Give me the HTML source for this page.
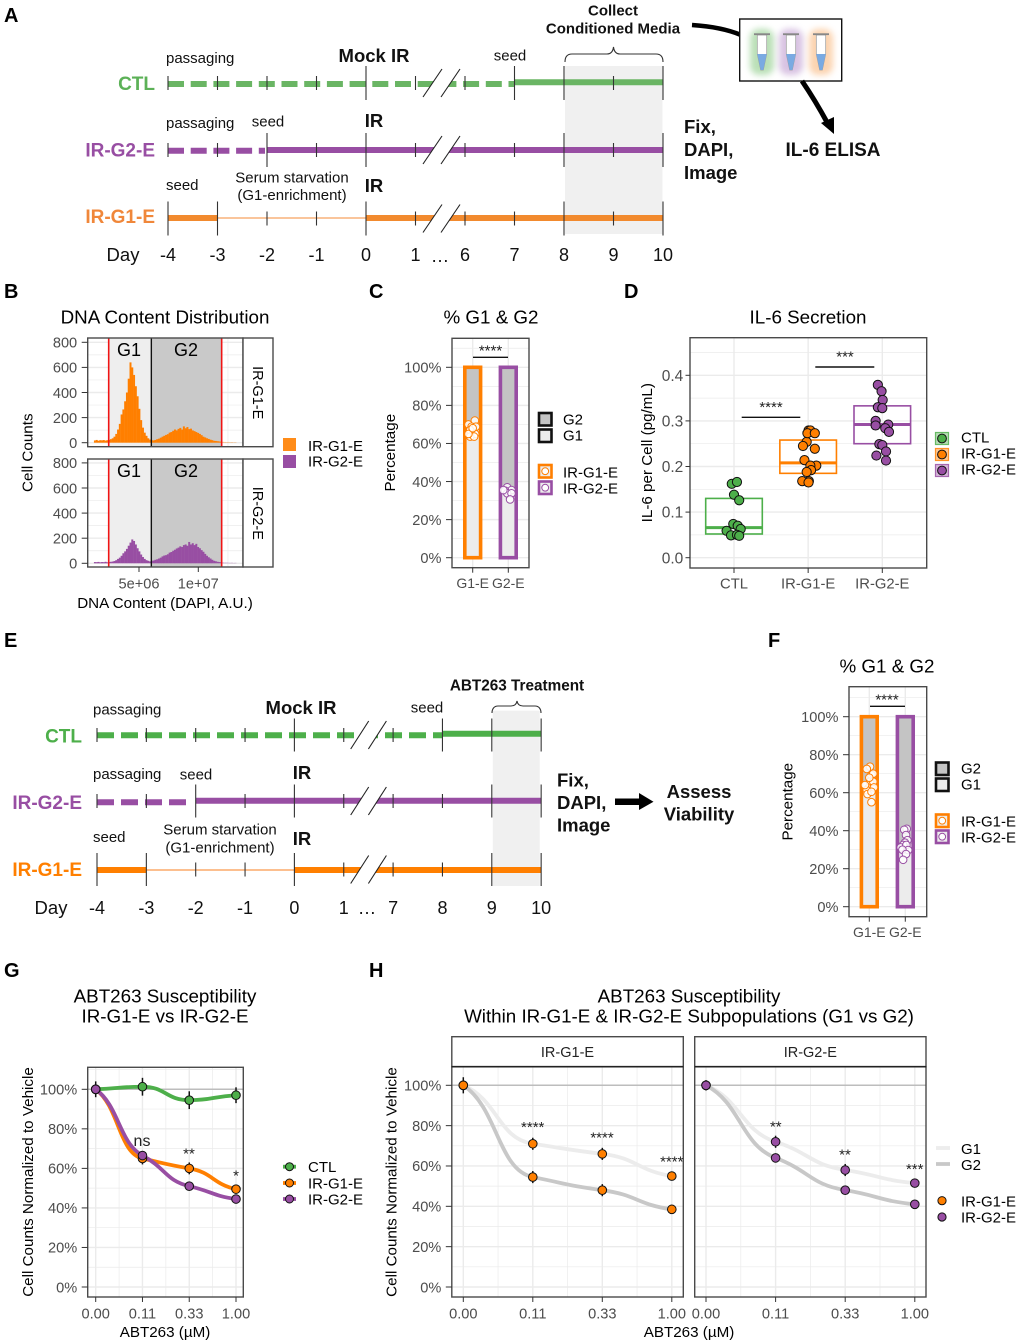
<!DOCTYPE html>
<html lang="en">
<head>
<meta charset="utf-8">
<title>Multi-panel figure: IR-G1-E and IR-G2-E senescence experiments</title>
<style>
  html, body { margin: 0; padding: 0; background: #fff; }
  svg { display: block; filter: blur(.3px); }
  text { font-family: "Liberation Sans", Arial, sans-serif; fill: #000; }
  .letter { font-weight: bold; font-size: 20px; }
  .tl { font-size: 15px; fill: #111; }
  .tlb { font-size: 18.5px; font-weight: bold; fill: #111; }
  .tlm { font-size: 15px; font-weight: bold; fill: #111; }
  .row { font-size: 19px; font-weight: bold; text-anchor: end; }
  .title { font-size: 18.8px; text-anchor: middle; }
  .axt { font-size: 15.2px; text-anchor: middle; }
  .leg { font-size: 15px; }
  .sig { font-size: 15px; text-anchor: middle; fill: #222; }
  .gate { font-size: 18px; text-anchor: middle; }
  .m { text-anchor: middle; }
</style>
</head>
<body>
<svg id="figure" xmlns="http://www.w3.org/2000/svg" width="1020" height="1344" viewBox="0 0 1020 1344">
  <defs>
    <filter id="glow" x="-50%" y="-50%" width="200%" height="200%"><feGaussianBlur stdDeviation="3.2"/></filter>
  </defs>
  <rect width="1020" height="1344" fill="#fff"/>

  <!-- panel letters -->
  <text class="letter" x="4" y="22">A</text>
  <text class="letter" x="4" y="298">B</text>
  <text class="letter" x="369" y="298">C</text>
  <text class="letter" x="624" y="298">D</text>
  <text class="letter" x="4" y="647">E</text>
  <text class="letter" x="768" y="647">F</text>
  <text class="letter" x="4" y="977">G</text>
  <text class="letter" x="369" y="977">H</text>

  <!-- PANEL A -->
  <g id="timeline-a"></g>
  <g>
    <text class="tlm m" x="613" y="15.7">Collect</text>
    <text class="tlm m" x="613" y="33.7">Conditioned Media</text>
    <path d="M565,62 C565,56 568,54 572,54 L607,54 C611,54 613,51 613.5,47 C614,51 616,54 620,54 L656,54 C660,54 663,56 663,62" fill="none" stroke="#333" stroke-width="1.1"/>
    <text class="tl" x="166" y="63">passaging</text>
    <text class="tlb m" x="374" y="62">Mock IR</text>
    <text class="tl m" x="510" y="60.7">seed</text>
    <text class="row" x="155" y="90" style="fill:#5cb157">CTL</text>
    <text class="tl" x="166" y="128">passaging</text>
    <text class="tl m" x="268" y="126.7">seed</text>
    <text class="tlb m" x="374" y="127">IR</text>
    <text class="row" x="155" y="156.7" style="fill:#984ea3">IR-G2-E</text>
    <text class="tl" x="166" y="190">seed</text>
    <text class="tl m" x="292" y="182.7">Serum starvation</text>
    <text class="tl m" x="292" y="200">(G1-enrichment)</text>
    <text class="tlb m" x="374" y="192">IR</text>
    <text class="row" x="155" y="223" style="fill:#f0873a">IR-G1-E</text>
    <text class="tlb m" x="123" y="261" style="font-weight:normal">Day</text>
    <text class="tlb m" x="440" y="262" style="font-weight:normal">…</text>
    <text class="tlb" x="684" y="133">Fix,</text>
    <text class="tlb" x="684" y="156">DAPI,</text>
    <text class="tlb" x="684" y="179">Image</text>
    <text class="tlb m" x="833" y="156" style="font-size:19px">IL-6 ELISA</text>
  </g>
  <g>
    <path d="M692,25 Q722,27 741,35" fill="none" stroke="#000" stroke-width="4.5"/>
    <rect x="739.7" y="19" width="102" height="62" fill="#fff" stroke="#111" stroke-width="1.4"/>
    <rect x="750" y="29" width="24" height="46" rx="9" fill="#a9d8a5" opacity=".8" filter="url(#glow)"/>
    <rect x="779" y="29" width="24" height="46" rx="9" fill="#cfb4dc" opacity=".8" filter="url(#glow)"/>
    <rect x="809" y="29" width="24" height="46" rx="9" fill="#fbc99d" opacity=".8" filter="url(#glow)"/>
    <g transform="translate(762,0)">
      <path d="M-4.7,35 L4.7,35 L4.7,54 L1.3,70 L-1.3,70 L-4.7,54 Z" fill="#fff" stroke="#999" stroke-width=".7"/>
      <path d="M-4.7,54 L4.7,54 L1.3,70 L-1.3,70 Z" fill="#7aaae2"/>
      <rect x="-8" y="33.3" width="16" height="1.8" fill="#888"/>
    </g>
    <g transform="translate(791,0)">
      <path d="M-4.7,35 L4.7,35 L4.7,54 L1.3,70 L-1.3,70 L-4.7,54 Z" fill="#fff" stroke="#999" stroke-width=".7"/>
      <path d="M-4.7,54 L4.7,54 L1.3,70 L-1.3,70 Z" fill="#7aaae2"/>
      <rect x="-8" y="33.3" width="16" height="1.8" fill="#888"/>
    </g>
    <g transform="translate(821,0)">
      <path d="M-4.7,35 L4.7,35 L4.7,54 L1.3,70 L-1.3,70 L-4.7,54 Z" fill="#fff" stroke="#999" stroke-width=".7"/>
      <path d="M-4.7,54 L4.7,54 L1.3,70 L-1.3,70 Z" fill="#7aaae2"/>
      <rect x="-8" y="33.3" width="16" height="1.8" fill="#888"/>
    </g>
    <path d="M802,81 Q815,100 828,124" fill="none" stroke="#000" stroke-width="5"/>
    <polygon points="821,123 834,117 834,134" fill="#000"/>
  </g>

  <!-- PANEL B -->
  <g id="panel-b"></g>
  <g>
    <text class="title" x="165" y="323.3">DNA Content Distribution</text>
    <text class="gate" x="129" y="356">G1</text>
    <text class="gate" x="186" y="356">G2</text>
    <text class="gate" x="129" y="477">G1</text>
    <text class="gate" x="186" y="477">G2</text>
    <text class="axt" x="165" y="608">DNA Content (DAPI, A.U.)</text>
    <text class="axt" x="32.5" y="452.7" transform="rotate(-90 32.5 452.7)">Cell Counts</text>
    <text class="leg m" x="253" y="392.7" transform="rotate(90 253 392.7)" style="font-size:14.5px">IR-G1-E</text>
    <text class="leg m" x="253" y="513.3" transform="rotate(90 253 513.3)" style="font-size:14.5px">IR-G2-E</text>
    <rect x="283" y="438" width="13" height="13" fill="#ff7f00" opacity=".9"/>
    <rect x="283" y="455" width="13" height="13" fill="#984ea3"/>
    <text class="leg" x="308" y="451">IR-G1-E</text>
    <text class="leg" x="308" y="466.4">IR-G2-E</text>
  </g>

  <!-- PANEL C -->
  <g id="panel-c"></g>
  <g>
    <text class="title" x="491" y="323.3">% G1 &amp; G2</text>
    <text class="axt" x="395" y="452.7" transform="rotate(-90 395 452.7)">Percentage</text>
    <line x1="473" x2="508" y1="357.3" y2="357.3" stroke="#111" stroke-width="1.4"/>
    <text class="sig" x="490.5" y="355.5">****</text>
    <rect x="539" y="413" width="12.5" height="12.5" fill="#c4c4c4" stroke="#111" stroke-width="2.6"/>
    <rect x="539" y="429.5" width="12.5" height="12.5" fill="#ececec" stroke="#111" stroke-width="2.6"/>
    <text class="leg" x="563" y="424.4">G2</text>
    <text class="leg" x="563" y="440.4">G1</text>
    <rect x="539" y="465" width="12.5" height="12.5" fill="#ececec" stroke="#ff7f00" stroke-width="2.6"/>
    <circle cx="545.2" cy="471.2" r="3.4" fill="#fff" stroke="#ff7f00" stroke-width="1"/>
    <rect x="539" y="481.5" width="12.5" height="12.5" fill="#ececec" stroke="#984ea3" stroke-width="2.6"/>
    <circle cx="545.2" cy="487.7" r="3.4" fill="#fff" stroke="#984ea3" stroke-width="1"/>
    <text class="leg" x="563" y="477.4">IR-G1-E</text>
    <text class="leg" x="563" y="493.4">IR-G2-E</text>
  </g>

  <!-- PANEL D -->
  <g id="panel-d"></g>
  <g>
    <text class="title" x="808" y="323.3">IL-6 Secretion</text>
    <text class="axt" x="652" y="452.7" transform="rotate(-90 652 452.7)">IL-6 per Cell (pg/mL)</text>
    <line x1="741.7" x2="800.3" y1="417.3" y2="417.3" stroke="#111" stroke-width="1.4"/>
    <text class="sig" x="771" y="412">****</text>
    <line x1="815.3" x2="874.3" y1="367" y2="367" stroke="#111" stroke-width="1.4"/>
    <text class="sig" x="845" y="361.3">***</text>
    <rect x="935.5" y="432.5" width="13" height="12" fill="#a9d9a6" stroke="#4daf4a" stroke-width="1.2" opacity=".85"/>
    <circle cx="942" cy="438.5" r="4.4" fill="#4daf4a" stroke="#111"/>
    <rect x="935.5" y="448.5" width="13" height="12" fill="#ffbe7d" stroke="#ff7f00" stroke-width="1.2" opacity=".85"/>
    <circle cx="942" cy="454.5" r="4.4" fill="#ff7f00" stroke="#111"/>
    <rect x="935.5" y="464.5" width="13" height="12" fill="#cda8d3" stroke="#984ea3" stroke-width="1.2" opacity=".85"/>
    <circle cx="942" cy="470.5" r="4.4" fill="#984ea3" stroke="#111"/>
    <text class="leg" x="961" y="442.4">CTL</text>
    <text class="leg" x="961" y="458.4">IR-G1-E</text>
    <text class="leg" x="961" y="474.4">IR-G2-E</text>
  </g>

  <!-- PANEL E -->
  <g id="timeline-e"></g>
  <g>
    <text class="tlm m" x="517" y="690.7" style="font-size:15.3px">ABT263 Treatment</text>
    <path d="M492,713 C492,709 494,706 498,706 L511,706 C515,706 516.5,704 517,701 C517.5,704 519,706 523,706 L535,706 C539,706 541,709 541,713" fill="none" stroke="#333" stroke-width="1.1"/>
    <text class="tl" x="93" y="714.3">passaging</text>
    <text class="tlb m" x="301" y="714">Mock IR</text>
    <text class="tl m" x="427" y="712.3">seed</text>
    <text class="row" x="82" y="742.7" style="fill:#4daf4a">CTL</text>
    <text class="tl" x="93" y="779">passaging</text>
    <text class="tl m" x="196" y="779.3">seed</text>
    <text class="tlb m" x="302" y="779">IR</text>
    <text class="row" x="82" y="809" style="fill:#984ea3">IR-G2-E</text>
    <text class="tl" x="93" y="842">seed</text>
    <text class="tl m" x="220" y="834.3">Serum starvation</text>
    <text class="tl m" x="220" y="852.7">(G1-enrichment)</text>
    <text class="tlb m" x="302" y="845">IR</text>
    <text class="row" x="82" y="876" style="fill:#ff7f00">IR-G1-E</text>
    <text class="tlb m" x="51" y="914" style="font-weight:normal">Day</text>
    <text class="tlb m" x="367" y="914" style="font-weight:normal">…</text>
    <text class="tlb" x="557" y="786.7">Fix,</text>
    <text class="tlb" x="557" y="809">DAPI,</text>
    <text class="tlb" x="557" y="831.7">Image</text>
    <polygon points="615,798.5 639,798.5 639,793 653.5,801.7 639,810 639,805 615,805" fill="#000"/>
    <text class="tlb m" x="699" y="798">Assess</text>
    <text class="tlb m" x="699" y="820.7">Viability</text>
  </g>

  <!-- PANEL F -->
  <g id="panel-f"></g>
  <g>
    <text class="title" x="887" y="672.7">% G1 &amp; G2</text>
    <text class="axt" x="792.7" y="801.7" transform="rotate(-90 792.7 801.7)">Percentage</text>
    <line x1="870" x2="905" y1="706.3" y2="706.3" stroke="#111" stroke-width="1.4"/>
    <text class="sig" x="887" y="704.6">****</text>
    <rect x="936" y="762.5" width="12.5" height="12.5" fill="#c4c4c4" stroke="#111" stroke-width="2.6"/>
    <rect x="936" y="778.5" width="12.5" height="12.5" fill="#ececec" stroke="#111" stroke-width="2.6"/>
    <text class="leg" x="961" y="773.4">G2</text>
    <text class="leg" x="961" y="789.4">G1</text>
    <rect x="936" y="814.5" width="12.5" height="12.5" fill="#ececec" stroke="#ff7f00" stroke-width="2.6"/>
    <circle cx="942.2" cy="820.7" r="3.4" fill="#fff" stroke="#ff7f00" stroke-width="1"/>
    <rect x="936" y="830.5" width="12.5" height="12.5" fill="#ececec" stroke="#984ea3" stroke-width="2.6"/>
    <circle cx="942.2" cy="836.7" r="3.4" fill="#fff" stroke="#984ea3" stroke-width="1"/>
    <text class="leg" x="961" y="826.4">IR-G1-E</text>
    <text class="leg" x="961" y="842.4">IR-G2-E</text>
  </g>

  <!-- PANEL G -->
  <g id="panel-g"></g>
  <g>
    <text class="title" x="165" y="1002.3">ABT263 Susceptibility</text>
    <text class="title" x="165" y="1022.3">IR-G1-E vs IR-G2-E</text>
    <text class="axt" x="33" y="1182" transform="rotate(-90 33 1182)">Cell Counts Normalized to Vehicle</text>
    <text class="axt" x="165" y="1337">ABT263 (µM)</text>
    <text class="sig" x="142" y="1146" style="font-size:16px">ns</text>
    <text class="sig" x="189" y="1158.6">**</text>
    <text class="sig" x="236" y="1180.3">*</text>
    <line x1="283" x2="296" y1="1166.7" y2="1166.7" stroke="#4daf4a" stroke-width="3.8"/>
    <circle cx="289.5" cy="1166.7" r="4" fill="#4daf4a" stroke="#111"/>
    <line x1="283" x2="296" y1="1183" y2="1183" stroke="#ff7f00" stroke-width="3.8"/>
    <circle cx="289.5" cy="1183" r="4" fill="#ff7f00" stroke="#111"/>
    <line x1="283" x2="296" y1="1199" y2="1199" stroke="#984ea3" stroke-width="3.8"/>
    <circle cx="289.5" cy="1199" r="4" fill="#984ea3" stroke="#111"/>
    <text class="leg" x="308" y="1172">CTL</text>
    <text class="leg" x="308" y="1188.4">IR-G1-E</text>
    <text class="leg" x="308" y="1204.4">IR-G2-E</text>
  </g>

  <!-- PANEL H -->
  <g id="panel-h"></g>
  <g>
    <text class="title" x="689" y="1002.3">ABT263 Susceptibility</text>
    <text class="title" x="689" y="1022.3">Within IR-G1-E &amp; IR-G2-E Subpopulations (G1 vs G2)</text>
    <text class="leg m" x="567.5" y="1057" style="font-size:14.5px;fill:#222">IR-G1-E</text>
    <text class="leg m" x="810.3" y="1057" style="font-size:14.5px;fill:#222">IR-G2-E</text>
    <text class="axt" x="396.3" y="1182" transform="rotate(-90 396.3 1182)">Cell Counts Normalized to Vehicle</text>
    <text class="axt" x="689" y="1337">ABT263 (µM)</text>
    <text class="sig" x="532.7" y="1132">****</text>
    <text class="sig" x="602" y="1142.3">****</text>
    <text class="sig" x="671.8" y="1166.3">****</text>
    <text class="sig" x="775.8" y="1131.3">**</text>
    <text class="sig" x="845" y="1159.6">**</text>
    <text class="sig" x="914.7" y="1174">***</text>
    <line x1="936" x2="950" y1="1148" y2="1148" stroke="#ededed" stroke-width="3.8"/>
    <line x1="936" x2="950" y1="1164" y2="1164" stroke="#c8c8c8" stroke-width="3.8"/>
    <text class="leg" x="961" y="1154">G1</text>
    <text class="leg" x="961" y="1170">G2</text>
    <circle cx="942" cy="1200.7" r="4.1" fill="#ff7f00" stroke="#111"/>
    <circle cx="942" cy="1217" r="4.1" fill="#984ea3" stroke="#111"/>
    <text class="leg" x="961" y="1206.4">IR-G1-E</text>
    <text class="leg" x="961" y="1222.4">IR-G2-E</text>
  </g>
</svg>

<script>
/* ---------- DATA ---------- */
// Panels A and E: timelines
const timelineADays = ['-4','-3','-2','-1','0','1','6','7','8','9','10'];
const timelineEDays = ['-4','-3','-2','-1','0','1','7','8','9','10'];

// Panel B: histogram bin counts
const histBinStart = 1.2e6;
const histBinWidth = 1.5e5;
const histIrG1 = [18,22,16,20,19,21,17,20,22,28,35,48,70,105,150,225,265,330,400,510,640,600,540,450,370,270,180,120,80,55,35,25,20,18,22,28,32,40,48,55,62,68,80,85,95,105,98,110,118,105,130,115,125,108,112,98,92,85,78,70,60,48,42,35,30,24,20,15,14,12,10,8,7,6,5,6,4,5,3,4];
const histIrG2 = [10,9,11,8,10,9,12,8,10,12,14,18,25,35,45,60,80,95,115,140,165,190,178,150,120,95,70,50,35,25,20,15,20,22,28,32,38,45,55,62,65,72,85,90,100,108,118,125,135,130,145,150,140,170,150,160,145,155,130,120,105,92,75,60,48,38,28,20,16,12,10,8,7,6,6,5,4,5,3,4];
const histGates = [2.445e6, 6.04e6, 1.197e7];
const histXTicks = [5e6, 1e7];
const histXLabels = ['5e+06', '1e+07'];
const histXMinor = [7.5e6, 1.25e7];
const histYTicks = [0, 200, 400, 600, 800];
const histYLabels = ['0', '200', '400', '600', '800'];

// Panel C: percent G1 per replicate
const pctTicks = [0, 20, 40, 60, 80, 100];
const pctLabels = ['0%', '20%', '40%', '60%', '80%', '100%'];
const pctGroups = ['G1-E', 'G2-E'];
const cMeans = [67.5, 34.8];
const cG1Values = [72, 70, 68.8, 68.8, 67, 65, 63.6, 63.6, 65, 68];
const cG1Jitter = [.06, -.12, -.03, .09, -.07, .07, -.07, .04, -.12, 0];
const cG2Values = [37, 35.5, 35.2, 33.8, 33.8, 30.6, 35.5];
const cG2Jitter = [-.03, .09, -.09, -.03, .09, .05, -.14];

// Panel D: IL-6 secretion
const il6Groups = ['CTL', 'IR-G1-E', 'IR-G2-E'];
const il6Ticks = [0, .1, .2, .3, .4];
const il6Labels = ['0.0', '0.1', '0.2', '0.3', '0.4'];
const il6Q1 = [.052, .185, .25];
const il6Median = [.066, .208, .292];
const il6Q3 = [.13, .258, .333];
const il6Ctl = [.162, .166, .138, .126, .074, .070, .063, .059, .049, .050, .048];
const il6CtlJitter = [-.03, .04, 0, .07, -.01, .05, .09, -.10, -.04, .04, .07];
const il6G1 = [.279, .279, .254, .273, .273, .245, .239, .214, .202, .202, .192, .188, .168, .168, .165];
const il6G1Jitter = [.005, .03, -.02, -.01, .09, -.07, .09, -.05, .11, .03, .04, -.02, .01, -.08, .005];
const il6G2 = [.379, .365, .346, .330, .328, .300, .290, .292, .284, .276, .249, .247, .233, .224, .213];
const il6G2Jitter = [-.06, -.01, .005, -.06, 0, -.09, -.09, .08, .04, .09, -.04, 0, .05, -.08, .05];

// Panel F: percent G1 per replicate
const fMeans = [65, 33];
const fG1Values = [73.7, 72.5, 69.3, 70, 65.8, 65.8, 62.3, 62.8, 61.4, 59.3, 60.5, 55, 64, 67.9];
const fG1Jitter = [.02, -.07, .06, .11, .02, .11, -.03, .13, -.07, -.05, .06, .06, -.12, 0];
const fG2Values = [41, 40.5, 37.7, 35, 33.7, 32.5, 31.2, 32.5, 29.8, 30, 27.7, 24.7];
const fG2Jitter = [.04, -.03, .02, .06, -.01, -.06, -.13, .03, .08, -.08, .02, -.06];

// Panel G: dose response
const doseLabels = ['0.00', '0.11', '0.33', '1.00'];
const gCtl = [100, 101.3, 94.5, 97];
const gCtlErr = [4, 4.5, 4.5, 4];
const gIrG1 = [100, 65, 60, 49.5];
const gIrG1Err = [1, 3, 3, 1];
const gIrG2 = [100, 66.5, 51, 44.5];
const gIrG2Err = [1, 1.5, 1, 1];

// Panel H: dose response by subpopulation
const hG1PanelG1 = [100, 71, 66, 55];
const hG1PanelG1Err = [4, 3, 3, 2];
const hG1PanelG2 = [100, 54.5, 48, 38.5];
const hG1PanelG2Err = [1, 3, 3, 2];
const hG2PanelG1 = [100, 72, 58, 51.5];
const hG2PanelG1Err = [2.5, 3, 3, 2];
const hG2PanelG2 = [100, 64, 48, 41];
const hG2PanelG2Err = [2.5, 1, 1, 1];

/* ---------- HELPERS ---------- */
const NS = 'http://www.w3.org/2000/svg';
const ORANGE = '#ff7f00', PURPLE = '#984ea3', GREEN = '#4daf4a';
const GRID = '#ebebeb', BORDER = '#4a4a4a', TICKTXT = '#4d4d4d';

function el(parent, tag, attrs, name) {
  const e = document.createElementNS(NS, tag);
  for (const k in attrs) e.setAttribute(k, attrs[k]);
  
  
  parent.appendChild(e);
  return e;
}
function line(p, x1, y1, x2, y2, stroke, w, name) {
  return el(p, 'line', {x1, y1, x2, y2, stroke, 'stroke-width': w}, name);
}
function label(p, x, y, str, anchor, size, name, fill) {
  const t = el(p, 'text', {x, y: y + size * 0.36, 'text-anchor': anchor, style: 'font-size:' + size + 'px;fill:' + (fill || TICKTXT)}, name);
  t.textContent = str;
  return t;
}
function gridY(p, box, ticks, yS) {
  ticks.forEach(v => line(p, box.x0, yS(v), box.x1, yS(v), GRID, 1.4, 'grid-major-y'));
  for (let i = 0; i + 1 < ticks.length; i++) {
    const m = (ticks[i] + ticks[i + 1]) / 2;
    line(p, box.x0, yS(m), box.x1, yS(m), GRID, .7, 'grid-minor-y');
  }
  const step = ticks[1] - ticks[0], top = ticks[ticks.length - 1] + step / 2;
  if (yS(top) > box.y0) line(p, box.x0, yS(top), box.x1, yS(top), GRID, .7, 'grid-minor-y');
}
function gridX(p, box, xs, minor) {
  xs.forEach(x => line(p, x, box.y0, x, box.y1, GRID, 1.4, 'grid-major-x'));
  if (minor) for (let i = 0; i + 1 < xs.length; i++) {
    const m = (xs[i] + xs[i + 1]) / 2;
    line(p, m, box.y0, m, box.y1, GRID, .7, 'grid-minor-x');
  }
}
function frame(p, box, name) {
  return el(p, 'rect', {x: box.x0, y: box.y0, width: box.x1 - box.x0, height: box.y1 - box.y0, fill: 'none', stroke: BORDER, 'stroke-width': 1.4}, name);
}
function axisY(p, box, ticks, labels, yS, opt) {
  const o = opt || {};
  const tickLen = o.tick || 6, off = o.off || 10.5, size = o.size || 14.6;
  ticks.forEach((v, i) => {
    line(p, box.x0 - tickLen, yS(v), box.x0, yS(v), '#333', 1, 'y-tick');
    label(p, box.x0 - off, yS(v), labels[i], 'end', size, 'y-tick-label');
  });
}
function axisX(p, box, xs, labels, y, size) {
  xs.forEach((x, i) => {
    line(p, x, box.y1, x, box.y1 + 5, '#333', 1, 'x-tick');
    label(p, x, y, labels[i], 'middle', size || 14.6, 'x-tick-label');
  });
}
function whiteBg(p, box, name) {
  return el(p, 'rect', {x: box.x0, y: box.y0, width: box.x1 - box.x0, height: box.y1 - box.y0, fill: '#fff'}, name);
}

/* ---------- TIMELINES ---------- */
function timeline(id, days, cfg) {
  const g = document.getElementById(id);
  const X = i => cfg.x0 + cfg.step * i;
  el(g, 'rect', {x: cfg.band[0], y: cfg.band[1], width: cfg.band[2] - cfg.band[0], height: cfg.band[3] - cfg.band[1], fill: '#f0f0f0'}, 'highlight-band');
  cfg.rows.forEach(r => {
    r.segs.forEach(s => {
      const a = {x1: X(s.from) + (s.ox1 || 0), x2: X(s.to) + (s.ox2 || 0), y1: s.y, y2: s.y, stroke: r.color, 'stroke-width': s.w || cfg.lw};
      if (s.dash) a['stroke-dasharray'] = s.dash;
      if (s.thin) { a['stroke-width'] = 1.6; a.stroke = r.thin; }
      el(g, 'line', a, r.name + '-segment');
    });
    days.forEach((d, i) => {
      const big = r.big.indexOf(i) >= 0;
      line(g, X(i), big ? r.y - cfg.bigUp : r.y - cfg.smallUp, X(i), big ? r.y + cfg.bigDown : r.y + cfg.smallDown, '#333', 1.1, r.name + '-tick');
    });
    const k = cfg.slash;
    const top = r.y - k.h, bot = r.y + k.h;
    el(g, 'polygon', {points: [k.x1 + k.dx, top, k.x2 + k.dx, top, k.x2, bot, k.x1, bot].join(' '), fill: '#fff'}, r.name + '-break-gap');
    line(g, k.x1, bot, k.x1 + k.dx, top, '#222', 1.1, r.name + '-break-slash');
    line(g, k.x2, bot, k.x2 + k.dx, top, '#222', 1.1, r.name + '-break-slash');
  });
  days.forEach((d, i) => {
    const t = el(g, 'text', {x: X(i), y: cfg.labelY, 'text-anchor': 'middle', style: 'font-size:18px;fill:#111'}, 'day-label');
    t.textContent = d;
  });
}

timeline('timeline-a', timelineADays, {
  x0: 168, step: 49.5, lw: 6, band: [565, 66, 662.5, 234], labelY: 261,
  bigUp: 17, bigDown: 17, smallUp: 7, smallDown: 7,
  slash: {x1: 423, x2: 441, dx: 19, h: 14},
  rows: [
    {name: 'ctl', y: 83, color: '#6ab564', thin: '#6ab564', big: [4, 7, 8, 10],
     segs: [{from: 0, to: 7, y: 84, dash: '16 6.7'}, {from: 7, to: 10, y: 82.3}]},
    {name: 'ir-g2-e', y: 150, color: PURPLE, thin: PURPLE, big: [2, 4, 8, 10],
     segs: [{from: 0, to: 2, y: 150.7, dash: '16 6.7', ox2: -2}, {from: 2, to: 10, y: 150}]},
    {name: 'ir-g1-e', y: 218.5, color: '#f28a2e', thin: '#f9b27a', big: [0, 1, 4, 8, 10],
     segs: [{from: 0, to: 1, y: 218}, {from: 1, to: 4, y: 218, thin: true}, {from: 4, to: 10, y: 218}]}
  ]
});

timeline('timeline-e', timelineEDays, {
  x0: 97, step: 49.35, lw: 6, band: [492.8, 710.7, 539.7, 886], labelY: 914,
  bigUp: 16.5, bigDown: 16.5, smallUp: 7, smallDown: 7,
  slash: {x1: 350.7, x2: 368.4, dx: 18, h: 14},
  rows: [
    {name: 'ctl', y: 735, color: GREEN, thin: GREEN, big: [4, 7, 8, 9],
     segs: [{from: 0, to: 7, y: 735.3, dash: '17 7'}, {from: 7, to: 9, y: 733.7}]},
    {name: 'ir-g2-e', y: 801, color: PURPLE, thin: PURPLE, big: [2, 4, 8, 9],
     segs: [{from: 0, to: 2, y: 802.3, dash: '17 7', ox2: -3}, {from: 2, to: 9, y: 800.7}]},
    {name: 'ir-g1-e', y: 869.5, color: ORANGE, thin: '#fbaa6a', big: [0, 1, 4, 8, 9],
     segs: [{from: 0, to: 1, y: 870}, {from: 1, to: 4, y: 870, thin: true}, {from: 4, to: 9, y: 870}]}
  ]
});

/* ---------- PANEL B ---------- */
(function () {
  const g = document.getElementById('panel-b');
  const xS = v => 79.7 + v / 5e6 * 59.3;
  function facet(box, y0Px, counts, color, stripName, yName) {
    const yS = c => y0Px - c * (100.4 / 800);
    whiteBg(g, box, yName + '-background');
    gridY(g, box, histYTicks, yS);
    gridX(g, box, histXTicks.map(xS), false);
    histXMinor.forEach(v => line(g, xS(v), box.y0, xS(v), box.y1, GRID, .7, 'grid-minor-x'));
    el(g, 'rect', {x: xS(histGates[0]), y: box.y0, width: xS(histGates[1]) - xS(histGates[0]), height: box.y1 - box.y0, fill: '#eeeeee'}, 'gate-g1-band');
    el(g, 'rect', {x: xS(histGates[1]), y: box.y0, width: xS(histGates[2]) - xS(histGates[1]), height: box.y1 - box.y0, fill: '#c9c9c9'}, 'gate-g2-band');
    counts.forEach((c, i) => {
      const v = histBinStart + histBinWidth * i;
      const bar = el(g, 'rect', {x: xS(v), y: yS(c), width: xS(v + histBinWidth) - xS(v) + .2, height: Math.max(0, y0Px - yS(c)), fill: color}, 'histogram-bin');
      if (xS(v) > xS(histGates[2])) bar.setAttribute('opacity', '.45');
    });
    line(g, xS(histGates[0]), box.y0, xS(histGates[0]), box.y1, '#f01414', 1.6, 'gate-line-low');
    line(g, xS(histGates[2]), box.y0, xS(histGates[2]), box.y1, '#f01414', 1.6, 'gate-line-high');
    line(g, xS(histGates[1]), box.y0, xS(histGates[1]), box.y1, '#111', 1.4, 'gate-line-mid');
    frame(g, box, yName + '-frame');
    axisY(g, box, histYTicks, histYLabels, yS);
    el(g, 'rect', {x: box.x1, y: box.y0, width: 30, height: box.y1 - box.y0, fill: '#fff', stroke: BORDER, 'stroke-width': 1.4}, stripName);
  }
  const topBox = {x0: 87.7, x1: 243, y0: 338, y1: 446.7};
  const botBox = {x0: 87.7, x1: 243, y0: 459, y1: 567};
  facet(topBox, 442.7, histIrG1, ORANGE, 'strip-box-ir-g1-e', 'facet-ir-g1-e');
  facet(botBox, 563.3, histIrG2, PURPLE, 'strip-box-ir-g2-e', 'facet-ir-g2-e');
  axisX(g, botBox, histXTicks.map(xS), histXLabels, 583);
})();

/* ---------- PANELS C, F ---------- */
function pctPanel(id, box, y0Px, y100Px, cats, means, vals, jit) {
  const g = document.getElementById(id);
  const yS = v => y0Px - v * (y0Px - y100Px) / 100;
  const xS = i => cats[0] + (cats[1] - cats[0]) * i;
  whiteBg(g, box, 'panel-background');
  gridY(g, box, pctTicks, yS);
  gridX(g, box, cats, false);
  const cols = [ORANGE, PURPLE];
  means.forEach((m, i) => {
    const w = 15.8, x = xS(i) - w / 2;
    el(g, 'rect', {x, y: yS(100), width: w, height: yS(m) - yS(100), fill: '#c4c4c4'}, 'bar-g2-' + pctGroups[i]);
    el(g, 'rect', {x, y: yS(m), width: w, height: yS(0) - yS(m), fill: '#ececec'}, 'bar-g1-' + pctGroups[i]);
    el(g, 'rect', {x, y: yS(100), width: w, height: yS(0) - yS(100), fill: 'none', stroke: cols[i], 'stroke-width': 3.6}, 'bar-outline-' + pctGroups[i]);
    vals[i].forEach((v, k) => {
      el(g, 'circle', {cx: xS(i + jit[i][k]), cy: yS(v), r: 3.8, fill: '#fff', 'fill-opacity': .85, stroke: cols[i], 'stroke-width': 1}, 'replicate-point');
    });
  });
  frame(g, box, 'panel-frame');
  axisY(g, box, pctTicks, pctLabels, yS);
  return {g, xS};
}
(function () {
  const c = pctPanel('panel-c', {x0: 452, x1: 529, y0: 338.3, y1: 567.7}, 557.7, 367.3, [472.7, 508.3], cMeans, [cG1Values, cG2Values], [cG1Jitter, cG2Jitter]);
  axisX(c.g, {y1: 567.7}, [472.7, 508.3], pctGroups, 583, 14);
  const f = pctPanel('panel-f', {x0: 849, x1: 926.7, y0: 686.7, y1: 916.7}, 906.7, 716.7, [869.3, 905.3], fMeans, [fG1Values, fG2Values], [fG1Jitter, fG2Jitter]);
  axisX(f.g, {y1: 916.7}, [869.3, 905.3], pctGroups, 932, 14);
})();

/* ---------- PANEL D ---------- */
(function () {
  const g = document.getElementById('panel-d');
  const box = {x0: 690, x1: 926.7, y0: 337.7, y1: 568};
  const xS = i => 734 + 74.15 * i;
  const yS = v => 557.7 - v * 456;
  whiteBg(g, box, 'panel-background');
  gridY(g, box, il6Ticks, yS);
  gridX(g, box, [xS(0), xS(1), xS(2)], false);
  const cols = [GREEN, ORANGE, PURPLE];
  const pts = [il6Ctl, il6G1, il6G2], jit = [il6CtlJitter, il6G1Jitter, il6G2Jitter];
  il6Groups.forEach((n, i) => {
    const hw = 28.3;
    el(g, 'rect', {x: xS(i) - hw, y: yS(il6Q3[i]), width: hw * 2, height: yS(il6Q1[i]) - yS(il6Q3[i]), fill: '#fff', 'fill-opacity': .3, stroke: cols[i], 'stroke-width': 1.6}, 'box-' + n);
    line(g, xS(i) - hw, yS(il6Median[i]), xS(i) + hw, yS(il6Median[i]), cols[i], 3, 'median-' + n);
    pts[i].forEach((v, k) => {
      el(g, 'circle', {cx: xS(i + jit[i][k]), cy: yS(v), r: 4.6, fill: cols[i], stroke: '#111', 'stroke-width': 1}, 'point-' + n);
    });
  });
  frame(g, box, 'panel-frame');
  axisY(g, box, il6Ticks, il6Labels, yS, {tick: 4.5, off: 6.7, size: 15.5});
  axisX(g, box, [xS(0), xS(1), xS(2)], il6Groups, 583, 14.8);
})();

/* ---------- PANELS G, H ---------- */
function smoothPath(xs, ys) {
  const n = xs.length, m = [];
  for (let i = 0; i < n; i++) {
    if (i === 0) m.push(.5 * (ys[1] - ys[0]) / (xs[1] - xs[0]));
    else if (i === n - 1) m.push(.5 * (ys[i] - ys[i - 1]) / (xs[i] - xs[i - 1]));
    else {
      const a = (ys[i] - ys[i - 1]) / (xs[i] - xs[i - 1]);
      const b = (ys[i + 1] - ys[i]) / (xs[i + 1] - xs[i]);
      m.push(a * b <= 0 ? 0 : .6 * 2 * a * b / (a + b));
    }
  }
  let d = 'M' + xs[0] + ',' + ys[0];
  for (let i = 0; i + 1 < n; i++) {
    const h = (xs[i + 1] - xs[i]) * .5;
    d += ' C' + (xs[i] + h) + ',' + (ys[i] + m[i] * h) + ' ' + (xs[i + 1] - h) + ',' + (ys[i + 1] - m[i + 1] * h) + ' ' + xs[i + 1] + ',' + ys[i + 1];
  }
  return d;
}
function dosePanel(g, box, xs, yS, series, showY) {
  whiteBg(g, box, 'panel-background');
  gridY(g, box, pctTicks, yS);
  gridX(g, box, xs, true);
  line(g, box.x0, yS(100), box.x1, yS(100), '#bdbdbd', 1.5, 'reference-line-100');
  series.forEach(s => {
    el(g, 'path', {d: smoothPath(xs, s.values.map(yS)), fill: 'none', stroke: s.lineColor, 'stroke-width': 3.8, 'stroke-linecap': 'round'}, 'curve-' + s.name);
  });
  series.forEach(s => {
    s.values.forEach((v, i) => {
      line(g, xs[i], yS(v + s.err[i]), xs[i], yS(v - s.err[i]), '#111', 1.5, 'error-bar-' + s.name);
      el(g, 'circle', {cx: xs[i], cy: yS(v), r: 4.3, fill: s.pointColor, stroke: '#111', 'stroke-width': 1}, 'point-' + s.name);
    });
  });
  frame(g, box, 'panel-frame');
  if (showY) axisY(g, box, pctTicks, pctLabels, yS);
  axisX(g, box, xs, doseLabels, 1313);
}
(function () {
  const g = document.getElementById('panel-g');
  const box = {x0: 87.7, x1: 243.3, y0: 1067.3, y1: 1297};
  const yS = v => 1287 - v * 1.977;
  const xs = doseLabels.map((d, i) => 95.7 + 46.77 * i);
  dosePanel(g, box, xs, yS, [
    {name: 'ctl', values: gCtl, err: gCtlErr, lineColor: GREEN, pointColor: GREEN},
    {name: 'ir-g1-e', values: gIrG1, err: gIrG1Err, lineColor: ORANGE, pointColor: ORANGE},
    {name: 'ir-g2-e', values: gIrG2, err: gIrG2Err, lineColor: PURPLE, pointColor: PURPLE}
  ], true);
})();
(function () {
  const g = document.getElementById('panel-h');
  const yS = v => 1287 - v * 2.017;
  const box1 = {x0: 451.8, x1: 683.3, y0: 1066.7, y1: 1297};
  const box2 = {x0: 694.7, x1: 926, y0: 1066.7, y1: 1297};
  const xs1 = doseLabels.map((d, i) => 463.3 + 69.5 * i);
  const xs2 = doseLabels.map((d, i) => 706 + 69.6 * i);
  [box1, box2].forEach(b => {
    el(g, 'rect', {x: b.x0, y: 1036.7, width: b.x1 - b.x0, height: 30, fill: '#fff', stroke: BORDER, 'stroke-width': 1.4}, 'strip-box');
  });
  dosePanel(g, box1, xs1, yS, [
    {name: 'g1', values: hG1PanelG1, err: hG1PanelG1Err, lineColor: '#ececec', pointColor: ORANGE},
    {name: 'g2', values: hG1PanelG2, err: hG1PanelG2Err, lineColor: '#c8c8c8', pointColor: ORANGE}
  ], true);
  dosePanel(g, box2, xs2, yS, [
    {name: 'g1', values: hG2PanelG1, err: hG2PanelG1Err, lineColor: '#ececec', pointColor: PURPLE},
    {name: 'g2', values: hG2PanelG2, err: hG2PanelG2Err, lineColor: '#c8c8c8', pointColor: PURPLE}
  ], false);
  line(g, box1.x0, box1.y0, box1.x1, box1.y0, '#222', 1.6, 'strip-divider');
  line(g, box2.x0, box2.y0, box2.x1, box2.y0, '#222', 1.6, 'strip-divider');
})();
</script>
</body>
</html>
